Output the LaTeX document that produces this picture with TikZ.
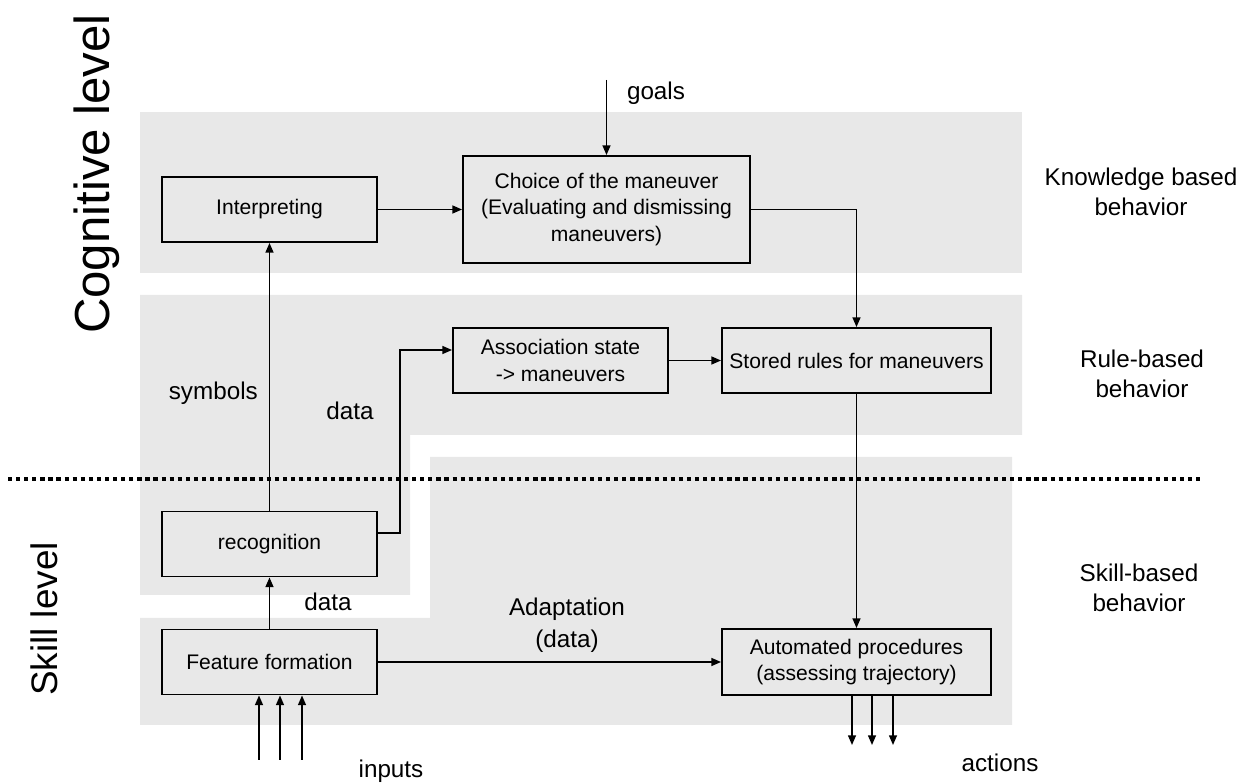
\documentclass[tikz,border=0pt]{standalone}
\usepackage{fontspec}
\setmainfont{Liberation Sans}
\usepackage{tikz}
\usetikzlibrary{arrows.meta}

\begin{document}
\begin{tikzpicture}[x=0.02cm,y=-0.02cm,>={Triangle[length=5.5pt,width=4.5pt]},
 blk/.style={draw,line width=1.1pt,align=center,inner sep=1pt,font=\fontsize{12}{15}\selectfont},
 lab/.style={align=center,font=\fontsize{13.8}{17}\selectfont},
 lvl/.style={rotate=90,anchor=base},
 arr/.style={->,line width=0.9pt}]
\useasboundingbox (0,0) rectangle (1252,783);
% behaviour zones
\fill[black!9](140,112)rectangle(1022,273);
\fill[black!9](140,295)--(1022,295)--(1022,435)--(410,435)--(410,595)--(140,595)--cycle;
\fill[black!9](140,618)--(430,618)--(430,457)--(1012,457)--(1012,725)--(140,725)--cycle;
\draw[line width=2.8pt,dash pattern=on 2.4pt off 2.2pt](8,479)--(1200,479);
% levels
\node[lvl,font=\fontsize{28}{34}\selectfont](cog)at(109,174){Cognitive level};
\node[lvl,font=\fontsize{21}{25}\selectfont](skill)at(57,619){Skill level};
\node[lab](kb)at(1141,192){Knowledge based\\behavior};
\node[lab](rb)at(1142,374){Rule-based\\behavior};
\node[lab](sb)at(1139,588){Skill-based\\behavior};
% blocks
\node[blk,minimum width=4.3cm,minimum height=1.3cm](interp)at(269.5,209.5){Interpreting};
\node[blk,minimum width=5.74cm,minimum height=2.14cm](choice)at(606.5,209.5){Choice of the maneuver\\(Evaluating and dismissing\\maneuvers)};
\node[blk,minimum width=4.3cm,minimum height=1.3cm](assoc)at(560.5,360.5){Association state\\-> maneuvers};
\node[blk,minimum width=5.38cm,minimum height=1.3cm](stored)at(856.5,360.5){Stored rules for maneuvers};
\node[blk,minimum width=4.3cm,minimum height=1.3cm](recog)at(269.5,544){recognition};
\node[blk,minimum width=4.3cm,minimum height=1.3cm](feat)at(269.5,662){Feature formation};
\node[blk,minimum width=5.38cm,minimum height=1.32cm](auto)at(856.5,662){Automated procedures\\(assessing trajectory)};
% labels
\node[lab](goals)at(656,93){goals};
\coordinate(goalsin)at(606.5,80);
\node[lab,anchor=east](sym)at(264,393){symbols};
\node[lab](data1)at(350,411){data};
\node[lab](data2)at(328,602){data};
\node[lab,font=\fontsize{13.8}{18.5}\selectfont](adapt)at(567,625){Adaptation\\(data)};
\node[lab](inputs)at(391,771){inputs};
\node[lab](actions)at(1000,763){actions};
% connectors
\draw[arr](goalsin)--(choice.north);
\draw[arr](interp.east)--(choice.west);
\draw[arr](choice.east)-|(stored.north);
\draw[arr](recog.north)--(interp.south);
\draw[arr]([yshift=0.22cm]recog.east)--++(22,0)|-([yshift=0.21cm]assoc.west);
\draw[arr](assoc.east)--(stored.west);
\draw[arr](stored.south)--(auto.north);
\draw[arr](feat.north)--(recog.south);
\draw[arr](feat.east)--(auto.west);
\foreach \i in {259,280,302}
  \draw[arr](\i,760)--(\i,760 |- feat.south);
\foreach \i in {852,872,893}
  \draw[arr](\i,700 |- auto.south)--(\i,745);
\end{tikzpicture}
\end{document}
